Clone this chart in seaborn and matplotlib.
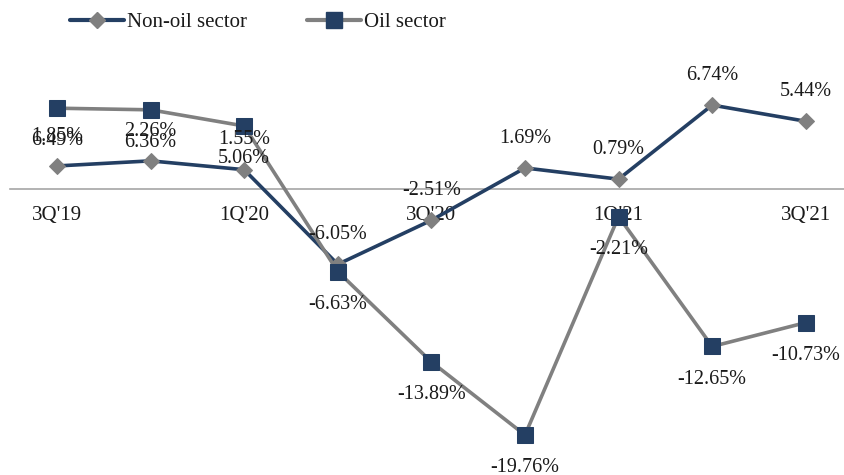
import numpy as np
import pandas as pd
import matplotlib
matplotlib.use("Agg")
import matplotlib.pyplot as plt
import seaborn as sns

# Quarterly real growth, % y/y
quarters = ["3Q'19", "4Q'19", "1Q'20", "2Q'20", "3Q'20", "4Q'20", "1Q'21", "2Q'21", "3Q'21"]
non_oil = [1.85, 2.26, 1.55, -6.05, -2.51, 1.69, 0.79, 6.74, 5.44]
oil = [6.49, 6.36, 5.06, -6.63, -13.89, -19.76, -2.21, -12.65, -10.73]
series_names = ["Non-oil sector", "Oil sector"]

NAVY = "#243F63"
GREY = "#808080"
AXIS_GREY = "#A6A6A6"
TEXT = "#1a1a1a"

sns.set_style("white")
plt.rcParams["font.family"] = ["Liberation Serif", "DejaVu Serif"]

x = np.arange(len(quarters))
df = pd.DataFrame({"pos": x, "quarter": quarters, "non_oil": non_oil, "oil": oil})

fig = plt.figure(figsize=(8.44, 4.75), dpi=100)
ax = fig.add_axes([0, 0, 1, 1])

sns.lineplot(data=df, x="pos", y="non_oil", ax=ax, sort=False, color=NAVY, lw=2.6,
             marker="D", markersize=8.5, markerfacecolor=GREY, markeredgecolor=GREY,
             zorder=3)
sns.lineplot(data=df, x="pos", y="oil", ax=ax, sort=False, color=GREY, lw=2.6,
             marker="s", markersize=12, markerfacecolor=NAVY, markeredgecolor=NAVY,
             zorder=4)

# value labels: non-oil above its points, oil below
for xi, v in zip(x, non_oil):
    ax.annotate(f"{v:.2f}%", (xi, v), xytext=(0, 21.5), textcoords="offset points",
                ha="center", va="center", fontsize=14.5, color=TEXT, zorder=5)
for xi, v in zip(x, oil):
    ax.annotate(f"{v:.2f}%", (xi, v), xytext=(0, -23.5), textcoords="offset points",
                ha="center", va="center", fontsize=14.5, color=TEXT, zorder=5)

# category axis on the zero line, with boundary ticks between quarters
for side in ["top", "right", "left"]:
    ax.spines[side].set_visible(False)
ax.spines["bottom"].set_position(("data", 0))
ax.spines["bottom"].set_color(AXIS_GREY)
ax.spines["bottom"].set_linewidth(1.2)

ax.set_xticks(np.arange(-0.5, len(quarters), 1.0), minor=True)
ax.set_xticks(x[::2])
ax.set_xticklabels(quarters[::2])
ax.tick_params(axis="x", which="minor", length=4, width=1.2, color=AXIS_GREY, direction="out")
ax.tick_params(axis="x", which="major", length=0, pad=12.5, labelsize=15, labelcolor=TEXT)
ax.set_yticks([])
ax.set_xlabel("")
ax.set_ylabel("")

# category spacing ~93.6 px, zero line 189 px from the top, ~12.45 px per percentage point
xmax = (844 - 57) / 93.6
ax.set_xlim(-57 / 93.6, xmax)
ax.set_ylim(-(475 - 189) / 12.45, 189 / 12.45)
ax.spines["bottom"].set_bounds(-0.5, xmax)

handles = [
    plt.Line2D([], [], color=NAVY, lw=3, marker="D", markersize=8.5,
               markerfacecolor=GREY, markeredgecolor=GREY),
    plt.Line2D([], [], color=GREY, lw=3, marker="s", markersize=12,
               markerfacecolor=NAVY, markeredgecolor=NAVY),
]
ax.legend(handles, series_names, loc="center left", bbox_to_anchor=(70 / 844, 1 - 22 / 475),
          bbox_transform=fig.transFigure, ncol=2, frameon=False, fontsize=15,
          handlelength=2.6, handletextpad=0.15, columnspacing=2.85,
          borderpad=0, borderaxespad=0, labelcolor=TEXT)

fig.savefig("out.png", dpi=100)
